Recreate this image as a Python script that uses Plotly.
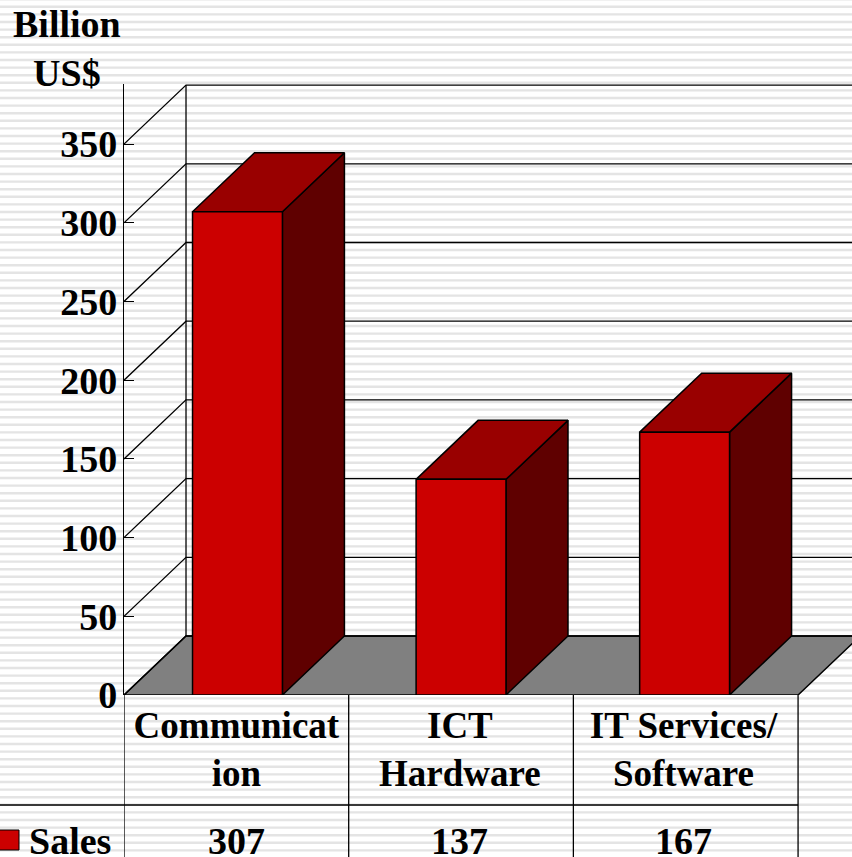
import plotly.graph_objects as go

# ── Data ──────────────────────────────────────────────────────────────────────
categories = ["Communicat<br>ion", "ICT<br>Hardware", "IT Services/<br>Software"]
sales = [307, 137, 167]
y_ticks = [0, 50, 100, 150, 200, 250, 300, 350]

W, H = 852, 857
FONT = "Liberation Serif"
TEXT = dict(family=FONT, size=38, color="#000000")

# 3D look: depth offset of the back plane, in axis units
DEPTH_X = 0.276
DEPTH_Y = 37.5
BAR_W = 0.40
BAR_STEP = 0.995
Y_TOP = 388.2
X_MAX = 2.74


def px_x(p):
    return p / W


def px_y(p):
    return 1 - p / H


def poly(xs, ys, fill, lw=1.5):
    return go.Scatter(
        x=xs, y=ys, mode="lines", fill="toself", fillcolor=fill,
        line=dict(color="#000000", width=lw), hoverinfo="skip", showlegend=False,
    )


fig = go.Figure()

# ── Floor and walls ───────────────────────────────────────────────────────────
fig.add_trace(poly(
    [-0.5, -0.5 + DEPTH_X, 2.5 + DEPTH_X, 2.5, -0.5],
    [0, DEPTH_Y, DEPTH_Y, 0, 0],
    "#808080",
))

grid_x, grid_y = [], []
for t in y_ticks:
    grid_x += [-0.5, -0.5 + DEPTH_X, X_MAX, None]
    grid_y += [t, t + DEPTH_Y, t + DEPTH_Y, None]
grid_x += [-0.5 + DEPTH_X, -0.5 + DEPTH_X]
grid_y += [DEPTH_Y, 350 + DEPTH_Y]
fig.add_trace(go.Scatter(
    x=grid_x, y=grid_y, mode="lines", line=dict(color="#000000", width=1.3),
    hoverinfo="skip", showlegend=False,
))

# ── Bars ──────────────────────────────────────────────────────────────────────
for i, v in enumerate(sales):
    mid = 0.005 + i * BAR_STEP
    x0, x1 = mid - BAR_W / 2, mid + BAR_W / 2
    fig.add_trace(poly(
        [x1, x1 + DEPTH_X, x1 + DEPTH_X, x1, x1],
        [0, DEPTH_Y, v + DEPTH_Y, v, 0], "#5f0000",
    ))
    fig.add_trace(poly(
        [x0, x0 + DEPTH_X, x1 + DEPTH_X, x1, x0],
        [v, v + DEPTH_Y, v + DEPTH_Y, v, v], "#990000",
    ))
    fig.add_trace(poly([x0, x0, x1, x1, x0], [0, v, v, 0, 0], "#cc0000"))

# ── Background stripes ────────────────────────────────────────────────────────
stripes = []
p = -0.8
while p < H:
    a, b = px_y(p - 1.2), px_y(p + 1.2)
    stripes.append(f"M0,{a:.5f} L1,{a:.5f} L1,{b:.5f} L0,{b:.5f} Z")
    p += 7.6
shapes = [dict(
    type="path", xref="paper", yref="paper", path=" ".join(stripes),
    fillcolor="#e4e4e4", line=dict(width=0), layer="below",
)]

# ── Data table under the chart ────────────────────────────────────────────────
for x in [-0.5, 0.5, 1.5, 2.5]:
    shapes.append(dict(
        type="line", xref="x", yref="paper", x0=x, x1=x, y0=0, y1=px_y(695),
        line=dict(color="#000000", width=1.3),
    ))
shapes.append(dict(
    type="line", xref="paper", yref="paper", x0=0, x1=px_x(798),
    y0=px_y(805), y1=px_y(805), line=dict(color="#000000", width=1.3),
))
shapes.append(dict(
    type="rect", xref="paper", yref="paper", x0=px_x(-5), x1=px_x(19),
    y0=px_y(850), y1=px_y(830), fillcolor="#cc0000",
    line=dict(color="#000000", width=1),
))

annotations = [
    dict(text="<b>Billion<br>US$</b>", xref="paper", yref="paper",
         x=px_x(67), y=px_y(1.5), xanchor="center", yanchor="top",
         showarrow=False, font=TEXT, align="center"),
    dict(text="<b>Sales</b>", xref="paper", yref="paper",
         x=px_x(27), y=px_y(859), xanchor="left", yanchor="bottom",
         height=32, showarrow=False, font=TEXT),
]
for i, v in enumerate(sales):
    annotations.append(dict(
        text=f"<b>{v}</b>", xref="x", yref="paper", x=i * BAR_STEP, y=px_y(859),
        xanchor="center", yanchor="bottom", height=32, showarrow=False, font=TEXT,
    ))

fig.update_layout(
    width=W, height=H,
    margin=dict(l=0, r=0, t=0, b=0),
    paper_bgcolor="#ffffff", plot_bgcolor="rgba(0,0,0,0)",
    showlegend=False, shapes=shapes, annotations=annotations,
    xaxis=dict(
        domain=[px_x(124), 1], range=[-0.5, X_MAX], showgrid=False, zeroline=False,
        automargin=False,
        showline=False, ticks="", tickmode="array",
        tickvals=[i * BAR_STEP for i in range(len(categories))],
        ticktext=[f"<b>{c.replace('<br>', '</b><br><b>')}</b>" for c in categories],
        tickfont=dict(TEXT, size=37), ticklabelstandoff=5,
    ),
    yaxis=dict(
        domain=[px_y(695), px_y(84)], range=[0, Y_TOP], showgrid=False, zeroline=False,
        automargin=False,
        showline=True, linecolor="#000000", linewidth=1.3,
        ticks="inside", ticklen=10, tickcolor="#000000", tickwidth=1.3,
        tickmode="array", tickvals=y_ticks,
        ticktext=[f"<b>{t}</b>" for t in y_ticks],
        tickfont=TEXT, ticklabelstandoff=-2,
    ),
)

# the page's default body margin would push the figure 8px off the window edge
fig.write_html("out.html", config={"displayModeBar": False},
               post_script="document.body.style.margin = '0';")
